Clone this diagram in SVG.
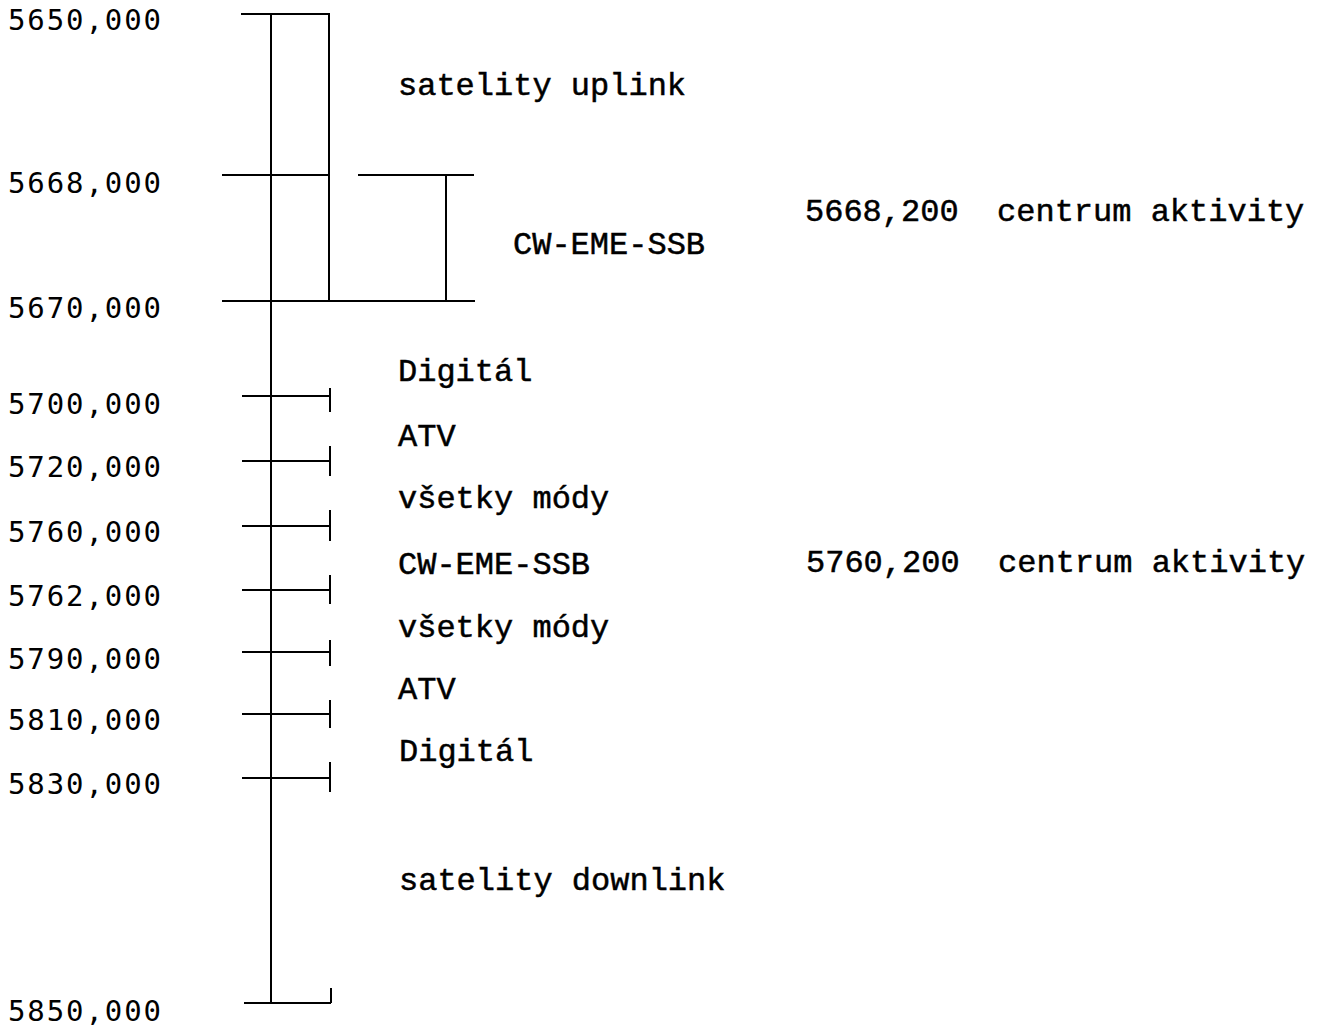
<svg xmlns="http://www.w3.org/2000/svg" width="1324" height="1029" viewBox="0 0 1324 1029">
<style>
.ax{font-family:"DejaVu Sans Mono",monospace;font-size:29px;fill:#000}
.lb{font-family:"Liberation Mono","Courier New",monospace;font-size:32px;fill:#000;stroke:#000;stroke-width:0.5;white-space:pre}
.ln{stroke:#000;stroke-width:2;fill:none}
</style>
<rect width="1324" height="1029" fill="#fff"/>
<g id="connectors" class="ln">
<line x1="271" y1="14" x2="271" y2="1003"/>
<polyline points="241,14 329,14 329,302"/>
<line x1="222" y1="175" x2="329" y2="175"/>
<line x1="358" y1="175" x2="474" y2="175"/>
<line x1="446" y1="175" x2="446" y2="302"/>
<line x1="222" y1="301" x2="475" y2="301"/>
<g id="ticks">
<path d="M242 396H330M330 388V412"/>
<path d="M242 461H330M330 446V476"/>
<path d="M242 526H330M330 510V541"/>
<path d="M242 590H330M330 575V604"/>
<path d="M242 652H330M330 640V666"/>
<path d="M242 714H330M330 700V728"/>
<path d="M242 778H330M330 762V792"/>
<path d="M244 1003H331M331 988V1003"/>
</g>
</g>
<g id="axis-labels" class="ax">
<text x="8" y="30" textLength="153">5650,000</text>
<text x="8" y="193" textLength="153">5668,000</text>
<text x="8" y="318" textLength="153">5670,000</text>
<text x="8" y="414" textLength="153">5700,000</text>
<text x="8" y="477" textLength="153">5720,000</text>
<text x="8" y="542" textLength="153">5760,000</text>
<text x="8" y="606" textLength="153">5762,000</text>
<text x="8" y="669" textLength="153">5790,000</text>
<text x="8" y="730" textLength="153">5810,000</text>
<text x="8" y="794" textLength="153">5830,000</text>
<text x="8" y="1021" textLength="153">5850,000</text>
</g>
<g id="band-labels" class="lb">
<text id="uplink" x="398" y="95">satelity uplink</text>
<text id="cw1" x="513" y="254">CW-EME-SSB</text>
<text id="c1" x="805" y="221" xml:space="preserve">5668,200  centrum aktivity</text>
<text id="dig1" x="398" y="381">Digitál</text>
<text id="atv1" x="398" y="446">ATV</text>
<text id="vm1" x="398" y="508">všetky módy</text>
<text id="cw2" x="398" y="574">CW-EME-SSB</text>
<text id="c2" x="806" y="572" xml:space="preserve">5760,200  centrum aktivity</text>
<text id="vm2" x="398" y="637">všetky módy</text>
<text id="atv2" x="398" y="699">ATV</text>
<text id="dig2" x="399" y="761">Digitál</text>
<text id="downlink" x="399" y="890">satelity downlink</text>
</g>
</svg>
